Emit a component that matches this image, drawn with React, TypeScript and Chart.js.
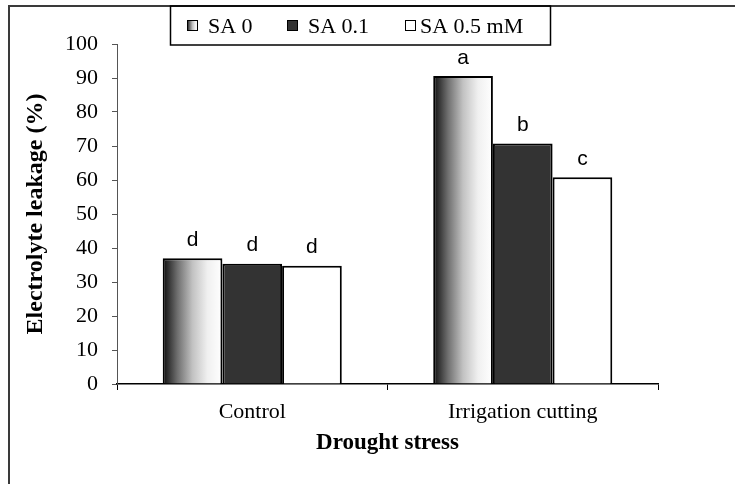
import React, { useEffect, useRef } from "react";
import { Chart, registerables } from "chart.js";

Chart.register(...registerables);

const categories = ["Control", "Irrigation cutting"];
const seriesNames = ["SA 0", "SA 0.1", "SA 0.5 mM"];
const sa0Values = [37.0, 90.6];
const sa01Values = [35.4, 70.7];
const sa05Values = [34.8, 60.8];
const sa0Letters = ["d", "a"];
const sa01Letters = ["d", "b"];
const sa05Letters = ["d", "c"];
const yMin = 0;
const yMax = 100;
const yStep = 10;
const yTitle = "Electrolyte leakage (%)";
const xTitle = "Drought stress";

const CAT_PCT = 0.662;
const SERIF = '"Liberation Serif", "Times New Roman", serif';
const SANS = '"Liberation Sans", Arial, sans-serif';

function addStops(g: CanvasGradient) {
  g.addColorStop(0, "#0d0d0d");
  g.addColorStop(0.25, "#707070");
  g.addColorStop(0.5, "#c2c2c2");
  g.addColorStop(0.75, "#f0f0f0");
  g.addColorStop(1, "#ffffff");
  return g;
}

function gradientFill(ctx: any) {
  const chart = ctx.chart;
  const xs = chart.scales && chart.scales.x;
  if (!xs || !chart.chartArea || ctx.dataIndex === undefined) return "#888888";
  const center = xs.getPixelForValue(ctx.dataIndex);
  const catW = (xs.right - xs.left) / categories.length;
  const left = center - (catW * CAT_PCT) / 2;
  const w = (catW * CAT_PCT) / 3;
  return addStops(chart.ctx.createLinearGradient(left, 0, left + w, 0));
}

const letterSets = [sa0Letters, sa01Letters, sa05Letters];

const lettersPlugin = {
  id: "letters",
  afterDatasetsDraw(chart: any) {
    const ctx = chart.ctx;
    ctx.save();
    ctx.font = `21px ${SANS}`;
    ctx.fillStyle = "#000";
    ctx.textAlign = "center";
    ctx.textBaseline = "middle";
    chart.data.datasets.forEach((_: any, di: number) => {
      const meta = chart.getDatasetMeta(di);
      meta.data.forEach((el: any, i: number) => {
        ctx.fillText(letterSets[di][i], el.x, el.y - 18);
      });
    });
    ctx.restore();
  },
};

const frameLegendPlugin = {
  id: "frameLegend",
  afterDraw(chart: any) {
    const ctx = chart.ctx;
    ctx.save();
    ctx.strokeStyle = "#3a3a3a";
    ctx.lineWidth = 2;
    ctx.beginPath();
    ctx.moveTo(9, 490);
    ctx.lineTo(9, 6);
    ctx.lineTo(740, 6);
    ctx.stroke();
    ctx.strokeStyle = "#000";
    ctx.lineWidth = 1.5;
    ctx.strokeRect(170.5, 6, 380, 39);
    const markerX = [187, 287, 405];
    const textX = [208, 308, 420];
    const fills: any[] = [
      addStops(ctx.createLinearGradient(187, 0, 198, 0)),
      "#333333",
      "#ffffff",
    ];
    ctx.font = `22px ${SERIF}`;
    ctx.textBaseline = "middle";
    ctx.textAlign = "left";
    seriesNames.forEach((name, i) => {
      ctx.fillStyle = fills[i];
      ctx.fillRect(markerX[i], 20, 11, 11);
      ctx.lineWidth = 1;
      ctx.strokeStyle = "#000";
      ctx.strokeRect(markerX[i] + 0.5, 20.5, 10, 10);
      ctx.fillStyle = "#000";
      ctx.fillText(name, textX[i], 27);
    });
    ctx.restore();
  },
};

export default function App() {
  const ref = useRef<HTMLCanvasElement | null>(null);
  useEffect(() => {
    if (!ref.current) return;
    const chart = new Chart(ref.current, {
      type: "bar",
      data: {
        labels: categories,
        datasets: [
          { label: seriesNames[0], data: sa0Values, backgroundColor: gradientFill },
          { label: seriesNames[1], data: sa01Values, backgroundColor: "#333333" },
          { label: seriesNames[2], data: sa05Values, backgroundColor: "#ffffff" },
        ].map((d) => ({
          ...d,
          borderColor: "#000",
          borderWidth: 2,
          barPercentage: 1,
          categoryPercentage: CAT_PCT,
        })),
      },
      options: {
        responsive: false,
        animation: false,
        layout: { padding: { left: 0, top: 44, right: 77, bottom: 0 } },
        plugins: { legend: { display: false }, tooltip: { enabled: false } },
        scales: {
          x: {
            offset: true,
            afterFit(scale: any) {
              scale.height = 100;
            },
            grid: {
              offset: true,
              drawOnChartArea: false,
              drawTicks: true,
              tickLength: 6,
              color: "#000",
            },
            border: { display: true, color: "#000", width: 1.5 },
            ticks: {
              color: "#000",
              font: { family: SERIF, size: 22 },
              padding: 9,
              maxRotation: 0,
            },
            title: {
              display: true,
              text: xTitle,
              color: "#000",
              font: { family: SERIF, size: 23, weight: "bold" },
              padding: { top: 0, bottom: 27 },
            },
          },
          y: {
            min: yMin,
            max: yMax,
            afterFit(scale: any) {
              scale.width = 117;
            },
            grid: {
              drawOnChartArea: false,
              drawTicks: true,
              tickLength: 5,
              color: "#555",
            },
            border: { display: true, color: "#555", width: 1 },
            ticks: {
              stepSize: yStep,
              color: "#000",
              font: { family: SERIF, size: 22 },
              padding: 14,
            },
            title: {
              display: true,
              text: yTitle,
              color: "#000",
              font: { family: SERIF, size: 24, weight: "bold" },
              padding: { top: 21, bottom: 0 },
            },
          },
        },
      },
      plugins: [lettersPlugin, frameLegendPlugin],
    });
    return () => chart.destroy();
  }, []);
  return (
    <canvas
      ref={ref}
      width={735}
      height={484}
      style={{ position: "fixed", left: 0, top: 0, width: 735, height: 484, background: "#fff" }}
    />
  );
}
